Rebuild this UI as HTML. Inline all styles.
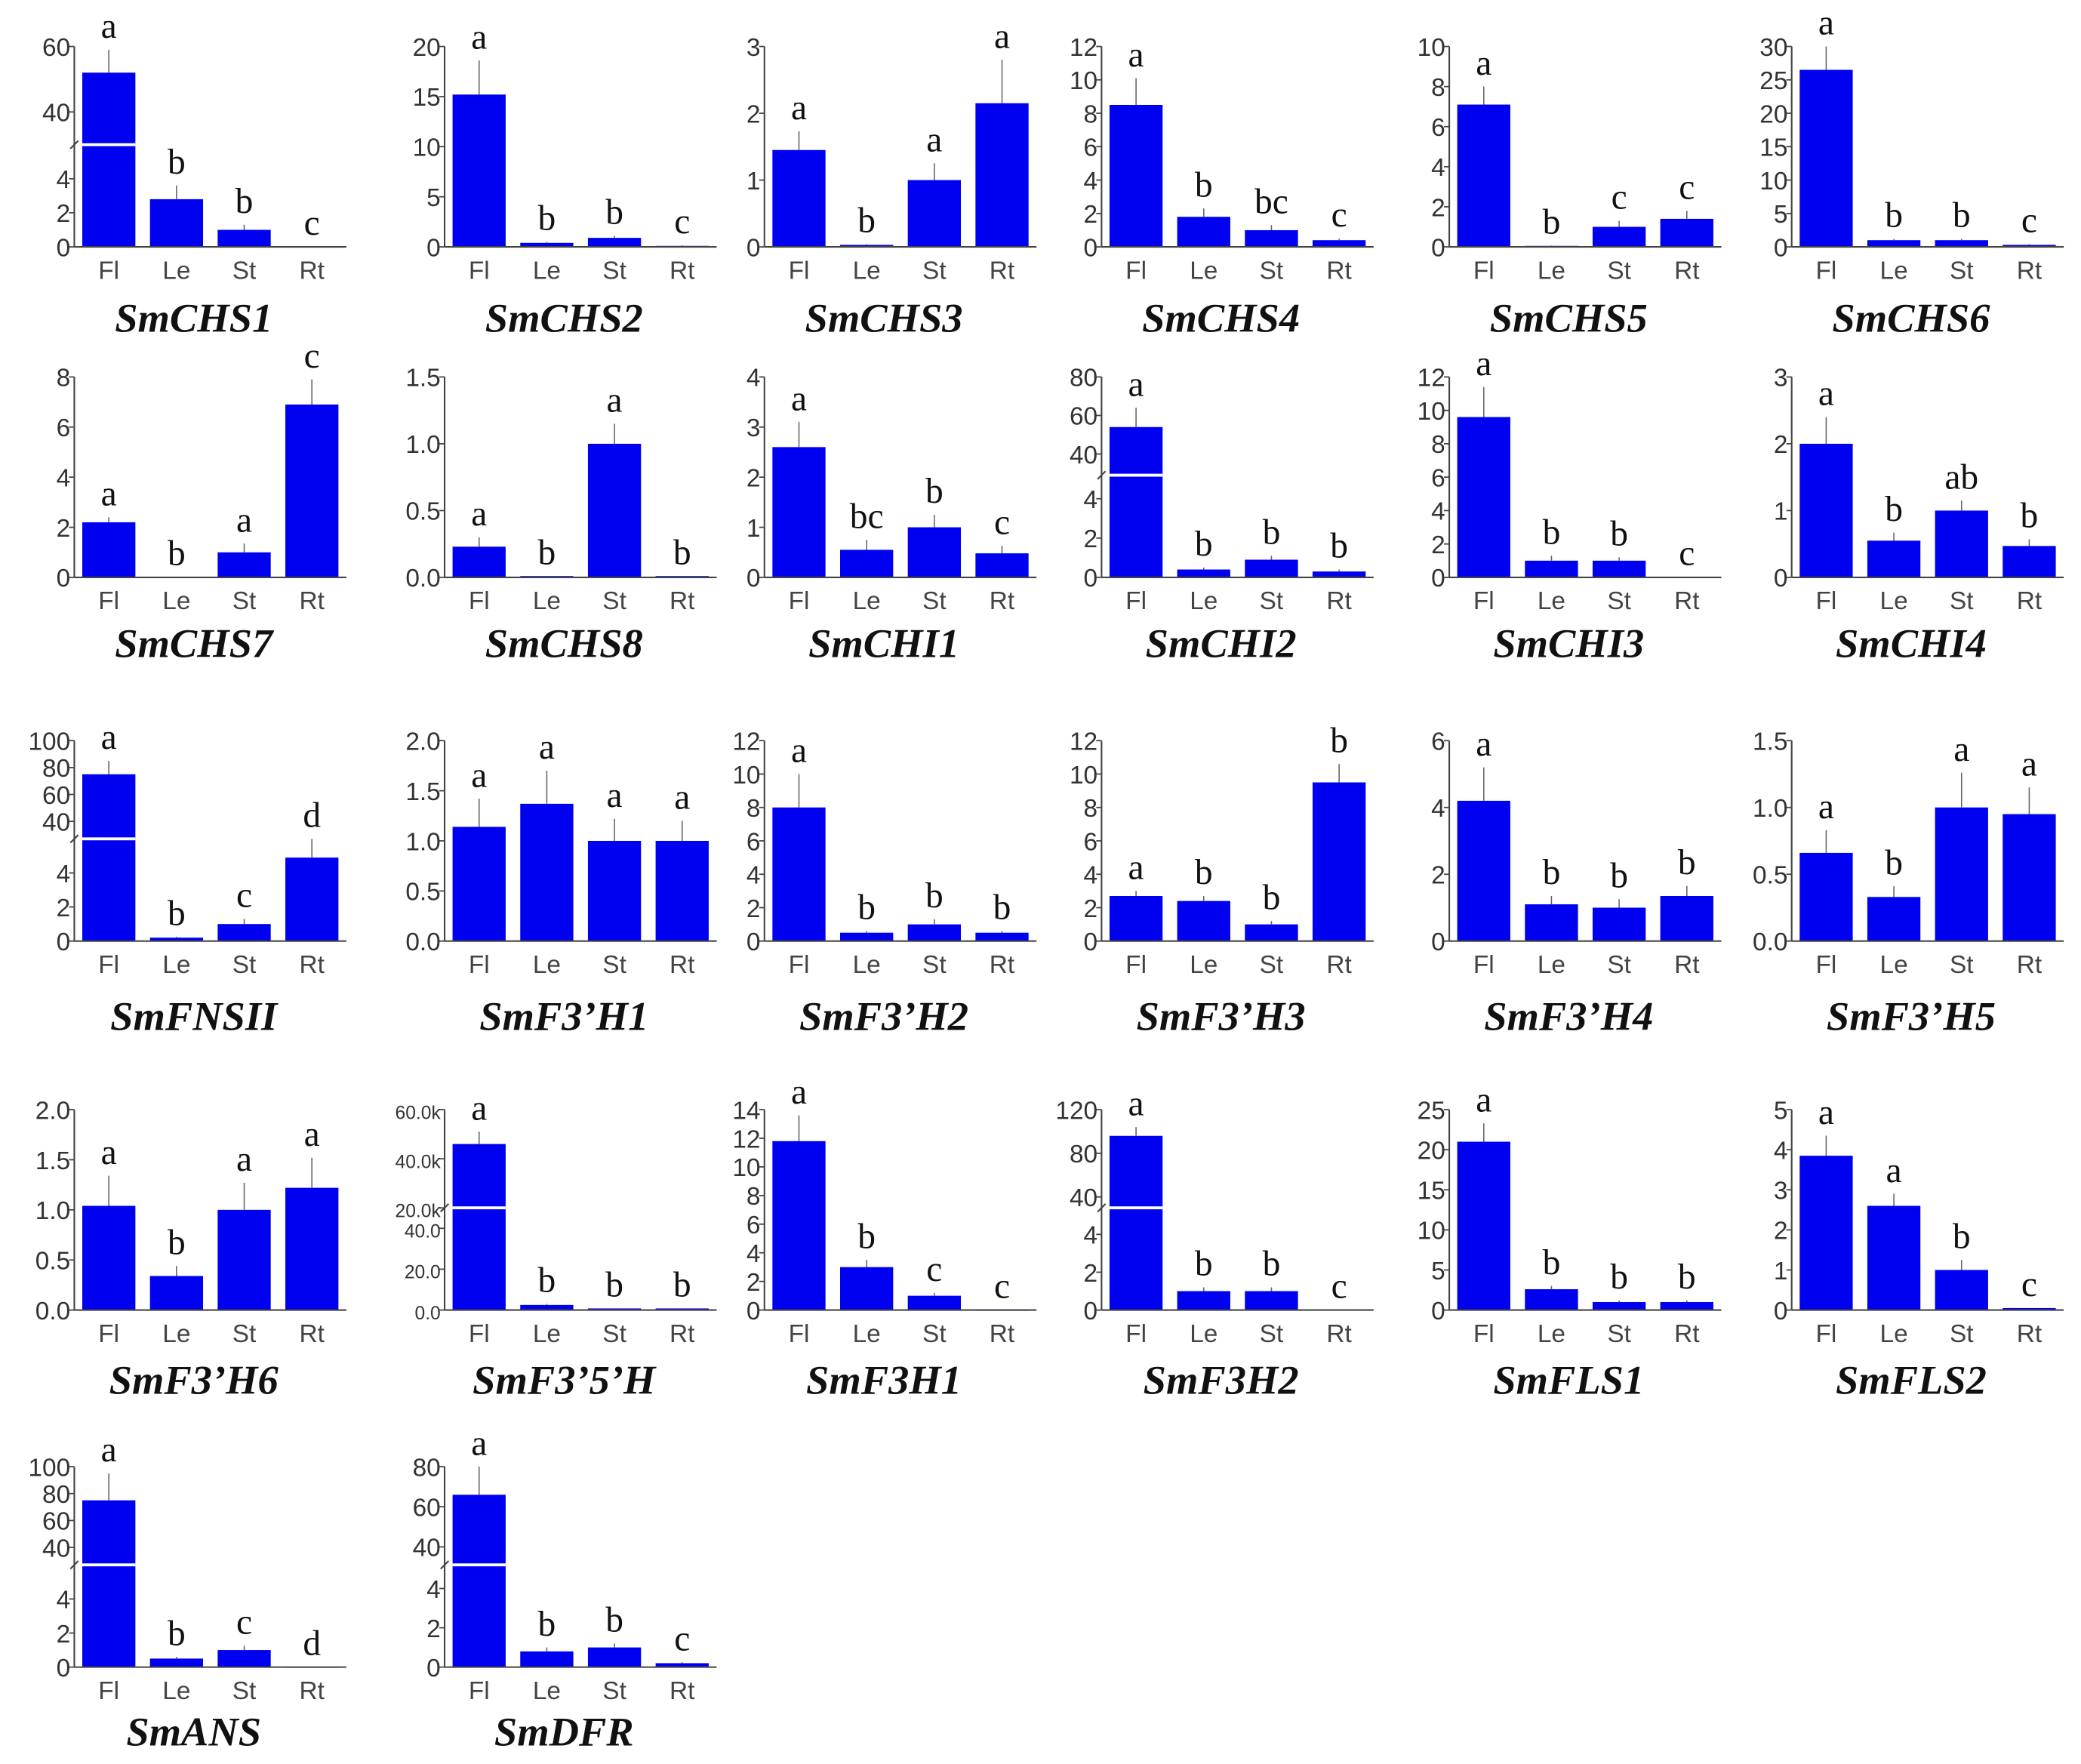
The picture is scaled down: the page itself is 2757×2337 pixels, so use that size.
<!DOCTYPE html>
<html><head><meta charset="utf-8"><style>
html,body{margin:0;padding:0;background:#fff;}
svg{display:block;}
</style></head><body>
<svg id="fig" xmlns="http://www.w3.org/2000/svg" width="2757" height="2337" viewBox="0 0 1568 1329" preserveAspectRatio="none"></svg>
<script>
const geneNames = ["SmCHS1","SmCHS2","SmCHS3","SmCHS4","SmCHS5","SmCHS6",
"SmCHS7","SmCHS8","SmCHI1","SmCHI2","SmCHI3","SmCHI4",
"SmFNSII","SmF3’H1","SmF3’H2","SmF3’H3","SmF3’H4","SmF3’H5",
"SmF3’H6","SmF3’5’H","SmF3H1","SmF3H2","SmFLS1","SmFLS2",
"SmANS","SmDFR"];
const tissues = ["Fl","Le","St","Rt"];
const values = [
[52,2.8,1.0,0.02],[15.2,0.4,0.9,0.1],[1.45,0.03,1.0,2.15],[8.5,1.8,1.0,0.4],[7.1,0.05,1.0,1.4],[26.5,1.0,1.0,0.3],
[2.2,0.02,1.0,6.9],[0.23,0.01,1.0,0.01],[2.6,0.55,1.0,0.48],[54,0.4,0.9,0.3],[9.6,1.0,1.0,0.02],[2.0,0.55,1.0,0.47],
[75,0.2,1.0,4.9],[1.14,1.37,1.0,1.0],[8.0,0.5,1.0,0.5],[2.7,2.4,1.0,9.5],[4.2,1.1,1.0,1.35],[0.66,0.33,1.0,0.95],
[1.04,0.34,1.0,1.22],[46000,2.5,0.8,0.8],[11.8,3.0,1.0,0.02],[96,1.0,1.0,0.02],[21,2.6,1.0,1.0],[3.85,2.6,1.0,0.05],
[75,0.5,1.0,0.02],[66,0.8,1.0,0.2]];
const errors = [
[7,0.8,0.3,0],[3.4,0.1,0.2,0.05],[0.28,0.01,0.25,0.65],[1.6,0.5,0.3,0.1],[0.9,0.02,0.3,0.4],[3.5,0.2,0.2,0.1],
[0.2,0,0.35,1.0],[0.07,0,0.15,0],[0.5,0.2,0.25,0.15],[10,0.1,0.2,0.1],[1.8,0.3,0.2,0],[0.4,0.12,0.15,0.1],
[10,0.05,0.3,1.1],[0.28,0.33,0.22,0.2],[2.0,0.1,0.3,0.1],[0.3,0.3,0.2,1.1],[1.0,0.25,0.25,0.3],[0.17,0.08,0.26,0.2],
[0.3,0.1,0.27,0.3],[5000,0.5,0,0],[1.8,0.5,0.2,0],[8,0.2,0.2,0],[2.3,0.4,0.2,0.2],[0.5,0.3,0.25,0],
[20,0.1,0.25,0],[14,0.2,0.2,0.05]];
const letters = [
["a","b","b","c"],["a","b","b","c"],["a","b","a","a"],["a","b","bc","c"],["a","b","c","c"],["a","b","b","c"],
["a","b","a","c"],["a","b","a","b"],["a","bc","b","c"],["a","b","b","b"],["a","b","b","c"],["a","b","ab","b"],
["a","b","c","d"],["a","a","a","a"],["a","b","b","b"],["a","b","b","b"],["a","b","b","b"],["a","b","a","a"],
["a","b","a","a"],["a","b","b","b"],["a","b","c","c"],["a","b","b","c"],["a","b","b","b"],["a","a","b","c"],
["a","b","c","d"],["a","b","b","c"]];
const yMax = [60,20,3,12,10,30, 8,1.5,4,80,12,3, 100,2,12,12,6,1.5, 2,60000,14,120,25,5, 100,80];
const breakLow = [6,null,null,null,null,null, null,null,null,5.2,null,null, 6,null,null,null,null,null, null,50,null,5.4,null,null, 6,5.2];
const breakHigh = [30,null,null,null,null,null, null,null,null,29,null,null, 27,null,null,null,null,null, null,20000,null,30,null,null, 27,31];
const tickValues = [
[0,2,4,40,60],[0,5,10,15,20],[0,1,2,3],[0,2,4,6,8,10,12],[0,2,4,6,8,10],[0,5,10,15,20,25,30],
[0,2,4,6,8],[0,0.5,1,1.5],[0,1,2,3,4],[0,2,4,40,60,80],[0,2,4,6,8,10,12],[0,1,2,3],
[0,2,4,40,60,80,100],[0,0.5,1,1.5,2],[0,2,4,6,8,10,12],[0,2,4,6,8,10,12],[0,2,4,6],[0,0.5,1,1.5],
[0,0.5,1,1.5,2],[0,20,40,20000,40000,60000],[0,2,4,6,8,10,12,14],[0,2,4,40,80,120],[0,5,10,15,20,25],[0,1,2,3,4,5],
[0,2,4,40,60,80,100],[0,2,4,40,60,80]];
const tickLabels = [
["0","2","4","40","60"],["0","5","10","15","20"],["0","1","2","3"],["0","2","4","6","8","10","12"],["0","2","4","6","8","10"],["0","5","10","15","20","25","30"],
["0","2","4","6","8"],["0.0","0.5","1.0","1.5"],["0","1","2","3","4"],["0","2","4","40","60","80"],["0","2","4","6","8","10","12"],["0","1","2","3"],
["0","2","4","40","60","80","100"],["0.0","0.5","1.0","1.5","2.0"],["0","2","4","6","8","10","12"],["0","2","4","6","8","10","12"],["0","2","4","6"],["0.0","0.5","1.0","1.5"],
["0.0","0.5","1.0","1.5","2.0"],["0.0","20.0","40.0","20.0k","40.0k","60.0k"],["0","2","4","6","8","10","12","14"],["0","2","4","40","80","120"],["0","5","10","15","20","25"],["0","1","2","3","4","5"],
["0","2","4","40","60","80","100"],["0","2","4","40","60","80"]];

const NS="http://www.w3.org/2000/svg";
const svg=document.getElementById('fig');
const colFl=[82,361,602,856,1118,1376];
const rowBase=[186,435,709,987,1256];
const rowTitle=[250,495,776,1050,1315];
const H=151, SP=51, BW=40;
function mk(tag,attrs,parent){const e=document.createElementNS(NS,tag);for(const k in attrs)e.setAttribute(k,attrs[k]);(parent||svg).appendChild(e);return e;}
function slug(s){return s.toLowerCase().replace(/[’']/g,'p');}

geneNames.forEach((g,i)=>{
  const r=Math.floor(i/6), c=i%6;
  const base=rowBase[r], top=base-H, fl=colFl[c], ax=fl-26;
  const brokenAx = breakLow[i]!==null;
  const brkY = base-77;
  function y(v){
    if(!brokenAx) return base - v/yMax[i]*H;
    if(v<=breakLow[i]) return base - v/breakLow[i]*(base-brkY);
    const vv=Math.max(v,breakHigh[i]);
    return brkY - (vv-breakHigh[i])/(yMax[i]-breakHigh[i])*(brkY-top);
  }
  const grp=mk('g',{});
  
  
  // bars
  values[i].forEach((v,j)=>{
    const cx=fl+j*SP, yt=y(v);
    const b=mk('rect',{x:cx-BW/2,y:yt,width:BW,height:Math.max(base-yt,0.8),fill:'#0000f0'},grp);
    
    
    if(brokenAx && v>breakLow[i]){
      mk('line',{x1:cx-BW/2,x2:cx+BW/2,y1:brkY,y2:brkY,stroke:'#fff','stroke-width':2.2},grp);
    }
    const ye=y(v+errors[i][j]);
    if(errors[i][j]>0){
      const eb=mk('line',{x1:cx,x2:cx,y1:yt,y2:ye,stroke:'#666','stroke-width':0.9},grp);
      
      
    }
    const lt=mk('text',{x:cx,y:Math.min(ye,yt)-9,'text-anchor':'middle','font-family':'Liberation Serif, serif','font-size':27,fill:'#111'},grp);
    lt.textContent=letters[i][j];
    
    
    const xl=mk('text',{x:cx,y:base+24,'text-anchor':'middle','font-family':'Liberation Sans, sans-serif','font-size':19,fill:'#444'},grp);
    xl.textContent=tissues[j];
    
    
  });
  // axes
  const ya=mk('line',{x1:ax,x2:ax,y1:top,y2:base,stroke:'#444','stroke-width':1.2},grp);
  
  
  const xa=mk('line',{x1:ax,x2:fl+3*SP+26,y1:base,y2:base,stroke:'#444','stroke-width':1.2},grp);
  
  
  if(brokenAx){
    mk('line',{x1:ax-3,x2:ax+3,y1:brkY+3,y2:brkY-3,stroke:'#444','stroke-width':1.2},grp);
  }
  const small = g==="SmF3’5’H";
  tickValues[i].forEach((tv,k)=>{
    const ty=y(tv);
    mk('line',{x1:ax-4,x2:ax,y1:ty,y2:ty,stroke:'#444','stroke-width':1},grp);
    const tl=mk('text',{x:ax-3,y:ty+7,'text-anchor':'end','font-family':'Liberation Sans, sans-serif','font-size':small?14:19,fill:'#333'},grp);
    tl.textContent=tickLabels[i][k];
    
    
  });
  const t=mk('text',{x:fl+64,y:rowTitle[r],'text-anchor':'middle','font-family':'Liberation Serif, serif','font-size':31,'font-weight':'bold','font-style':'italic',fill:'#111'},grp);
  t.textContent=g;
  
  
});
</script>
</body></html>
